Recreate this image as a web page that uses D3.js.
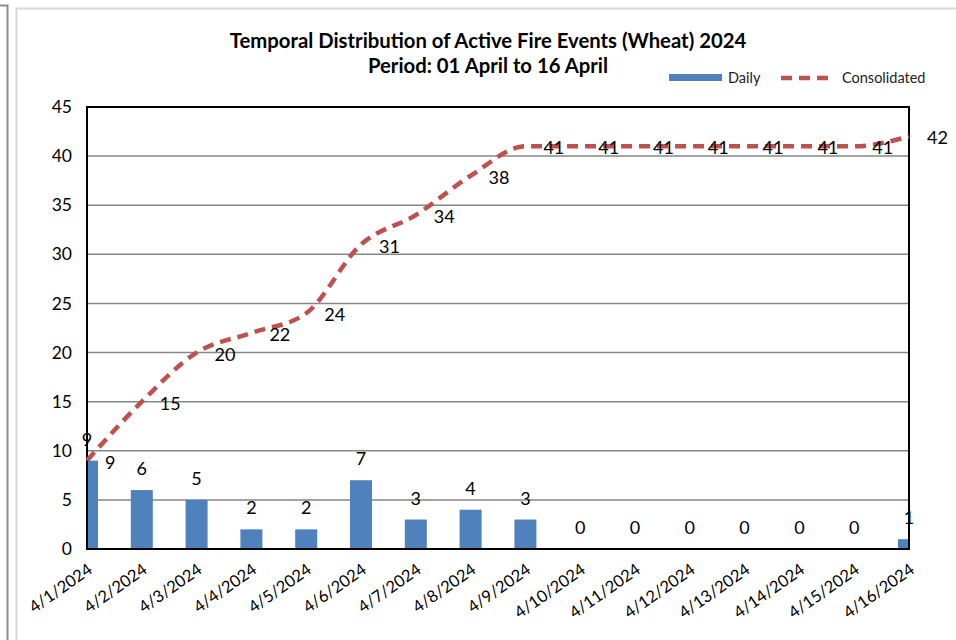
<!DOCTYPE html>
<html><head><meta charset="utf-8">
<script src="https://cdn.jsdelivr.net/npm/d3@7"></script>
<style>body{margin:0;background:#fff}svg{display:block}text{font-family:Lato,"Open Sans",sans-serif}</style>
</head><body><svg id="c" width="956" height="640"></svg>
<script>
const dates = ["4/1/2024","4/2/2024","4/3/2024","4/4/2024","4/5/2024","4/6/2024","4/7/2024","4/8/2024","4/9/2024","4/10/2024","4/11/2024","4/12/2024","4/13/2024","4/14/2024","4/15/2024","4/16/2024"];
const daily = [9,6,5,2,2,7,3,4,3,0,0,0,0,0,0,1];
const consolidated = [9,15,20,22,24,31,34,38,41,41,41,41,41,41,41,42];
const yTicks = [0,5,10,15,20,25,30,35,40,45];
const titleLines = ["Temporal Distribution of Active Fire Events (Wheat) 2024","Period: 01 April to 16 April"];
const seriesNames = ["Daily","Consolidated"];

const svg = d3.select("#c");
const L=87,R=909,T=107,B=549;
const blue="#4F81BD", red="#C0504D";

// outer frames
svg.append("path").attr("d","M0,5.5H7.5V640").attr("fill","none").attr("stroke","#8c8c8c").attr("stroke-width",2);
svg.append("path").attr("d","M16.5,640V8.5H956").attr("fill","none").attr("stroke","#d9d9d9").attr("stroke-width",2);

const x = d3.scalePoint().domain(dates).range([L,R]);
const y = d3.scaleLinear().domain([0,45]).range([B,T]);

// gridlines
svg.append("g").selectAll("line").data(yTicks.filter(d=>d>0&&d<45)).join("line")
  .attr("x1",L).attr("x2",R).attr("y1",d=>y(d)).attr("y2",d=>y(d))
  .attr("stroke","#868686").attr("stroke-width",1.5);

svg.append("defs").append("clipPath").attr("id","pc").append("rect")
  .attr("x",L).attr("y",T).attr("width",R-L).attr("height",B-T);

// bars
const bw=22;
svg.append("g").attr("clip-path","url(#pc)").selectAll("rect").data(dates).join("rect")
  .attr("x",d=>x(d)-bw/2).attr("width",bw)
  .attr("y",(d,i)=>y(daily[i])).attr("height",(d,i)=>B-y(daily[i]))
  .attr("fill",blue);

// plot border
svg.append("rect").attr("x",L).attr("y",T).attr("width",R-L).attr("height",B-T)
  .attr("fill","none").attr("stroke","#000").attr("stroke-width",2);

// line
const line = d3.line().x((d,i)=>x(dates[i])).y(d=>y(d)).curve(d3.curveMonotoneX);
svg.append("path").datum(consolidated).attr("d",line).attr("fill","none")
  .attr("stroke",red).attr("stroke-width",4.5).attr("stroke-dasharray","11,7");

// y axis labels
const yAxis = d3.axisLeft(y).tickValues(yTicks).tickSize(0).tickPadding(15);
const ya = svg.append("g").attr("transform",`translate(${L},0)`).call(yAxis);
ya.select(".domain").remove();
ya.selectAll("text").attr("font-size",17.5).attr("fill","#000").style("font-family","Lato, sans-serif");

// x axis labels
const xa = svg.append("g").attr("transform",`translate(0,${B})`).call(d3.axisBottom(x).tickSize(0).tickFormat(d=>d));
xa.select(".domain").remove();
xa.selectAll("text").attr("font-size",16.5).attr("fill","#000").style("font-family","Lato, sans-serif")
  .attr("text-anchor","end").attr("dy",null).attr("y",null)
  .attr("transform","translate(6,23) rotate(-35)");

// data labels
svg.append("g").selectAll("text").data(dates).join("text")
  .attr("x",d=>x(d)).attr("y",(d,i)=>y(daily[i])-15)
  .attr("text-anchor","middle").attr("font-size",18).attr("fill","#000")
  .text((d,i)=>daily[i]);
svg.append("g").selectAll("text").data(dates).join("text")
  .attr("x",d=>x(d)+18).attr("y",(d,i)=>y(consolidated[i])+8)
  .attr("font-size",18).attr("fill","#000")
  .text((d,i)=>consolidated[i]);

// title
svg.append("g").selectAll("text").data(titleLines).join("text")
  .attr("x",488).attr("y",(d,i)=>48+i*25).attr("text-anchor","middle")
  .attr("font-size",20.3).attr("font-weight","bold").attr("fill","#000").text(d=>d);

// legend
const lg = svg.append("g");
lg.append("rect").attr("x",669).attr("y",74).attr("width",53).attr("height",7).attr("fill",blue);
lg.append("text").attr("x",728).attr("y",83).attr("font-size",14.5).attr("fill","#222").text(seriesNames[0]);
lg.append("line").attr("x1",781).attr("x2",835).attr("y1",78).attr("y2",78)
  .attr("stroke",red).attr("stroke-width",4.5).attr("stroke-dasharray","11,7");
lg.append("text").attr("x",842).attr("y",83).attr("font-size",14.5).attr("fill","#222").text(seriesNames[1]);
</script></body></html>
